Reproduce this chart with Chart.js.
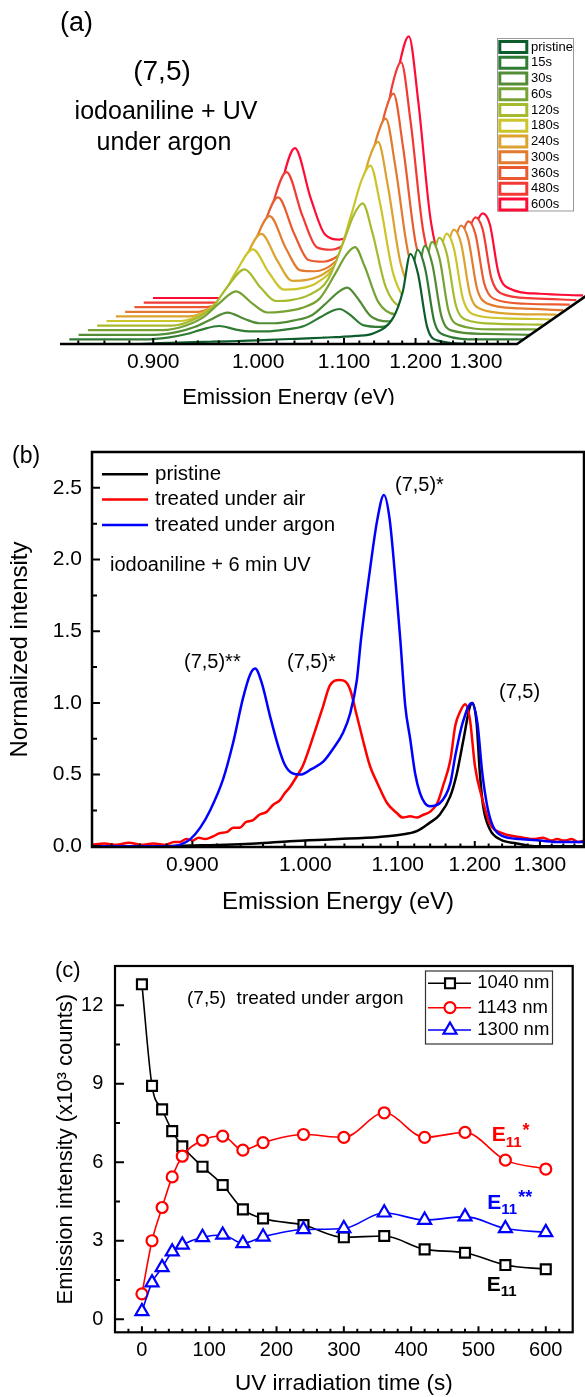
<!DOCTYPE html>
<html>
<head>
<meta charset="utf-8">
<title>(7,5) SWCNT photoluminescence after iodoaniline + UV</title>
<script src="https://cdn.jsdelivr.net/npm/chart.js@4.4.1/dist/chart.umd.min.js"></script>
<style>
  html, body { margin: 0; padding: 0; background: #fff; overflow: hidden; }
  #page { position: relative; width: 585px; height: 1397px; }
  canvas { position: absolute; left: 0; background: #fff; }
  #panelA { top: 0; }
  #panelB { top: 405px; }
  #panelC { top: 925px; }
</style>
</head>
<body>
<div id="page">
  <canvas id="panelA" width="585" height="430"></canvas>
  <canvas id="panelB" width="585" height="520"></canvas>
  <canvas id="panelC" width="585" height="472"></canvas>
</div>
<script>
const FONT = "'Liberation Sans', Arial, Helvetica, sans-serif";
const HC = 1239.84; // eV*nm, photon energy <-> wavelength

// energy axis ticks (eV), the labelled ones listed separately
const energyTicks = [0.84, 0.86, 0.88, 0.90, 0.92, 0.94, 0.96, 0.98, 1.00, 1.02, 1.04, 1.06, 1.08,
  1.10, 1.12, 1.14, 1.16, 1.18, 1.20, 1.22, 1.24, 1.26, 1.28, 1.30, 1.32, 1.34, 1.36];
const energyLabels = [0.90, 1.00, 1.10, 1.20, 1.30];

// (a) normalised PL vs irradiation time, all on one wavelength grid (nm)
const gridA = [1500, 1400, 1370, 1345, 1325, 1302, 1280, 1260, 1240, 1215, 1190, 1168, 1155,
  1143, 1130, 1112, 1088, 1062, 1050, 1040, 1030, 1018, 1005, 960, 900];
const traceNames = ['pristine', '15s', '30s', '60s', '120s', '180s', '240s', '300s', '360s', '480s', '600s'];
const plPristine = [0, 0, 0.01, 0.015, 0.02, 0.025, 0.03, 0.035, 0.04, 0.05, 0.058, 0.065, 0.07, 0.075, 0.08, 0.09, 0.12, 0.30, 0.58, 1.0, 0.78, 0.19, 0.04, 0, 0];
const pl15 = [0, 0, 0.02, 0.06, 0.11, 0.15, 0.11, 0.09, 0.09, 0.11, 0.15, 0.25, 0.31, 0.34, 0.28, 0.16, 0.14, 0.32, 0.60, 1.0, 0.79, 0.20, 0.05, 0, 0];
const pl30 = [0, 0, 0.03, 0.09, 0.17, 0.25, 0.18, 0.13, 0.13, 0.16, 0.22, 0.38, 0.48, 0.53, 0.42, 0.21, 0.15, 0.34, 0.62, 1.0, 0.79, 0.21, 0.05, 0.01, 0];
const pl60 = [0, 0, 0.05, 0.15, 0.30, 0.44, 0.30, 0.20, 0.21, 0.25, 0.36, 0.66, 0.85, 0.94, 0.72, 0.32, 0.18, 0.37, 0.66, 1.0, 0.81, 0.22, 0.06, 0.01, 0.01];
const pl120 = [0, 0, 0.07, 0.21, 0.44, 0.64, 0.43, 0.28, 0.29, 0.35, 0.52, 0.97, 1.26, 1.39, 1.06, 0.44, 0.21, 0.40, 0.70, 1.0, 0.82, 0.24, 0.07, 0.02, 0.01];
const pl180 = [0, 0, 0.09, 0.27, 0.56, 0.82, 0.55, 0.36, 0.37, 0.44, 0.66, 1.24, 1.61, 1.78, 1.35, 0.54, 0.23, 0.43, 0.74, 1.0, 0.83, 0.26, 0.08, 0.03, 0.02];
const pl240 = [0, 0, 0.10, 0.31, 0.65, 0.95, 0.64, 0.41, 0.42, 0.50, 0.74, 1.40, 1.82, 2.01, 1.52, 0.60, 0.25, 0.45, 0.76, 1.0, 0.84, 0.26, 0.09, 0.03, 0.02];
const pl300 = [0, 0, 0.12, 0.36, 0.76, 1.11, 0.74, 0.48, 0.47, 0.56, 0.83, 1.56, 2.03, 2.24, 1.69, 0.67, 0.26, 0.46, 0.78, 1.0, 0.84, 0.27, 0.10, 0.04, 0.02];
const pl360 = [0, 0, 0.13, 0.41, 0.88, 1.28, 0.86, 0.55, 0.53, 0.63, 0.91, 1.73, 2.26, 2.49, 1.88, 0.73, 0.28, 0.48, 0.80, 1.0, 0.85, 0.28, 0.10, 0.04, 0.03];
const pl480 = [0, 0, 0.16, 0.49, 1.05, 1.53, 1.02, 0.65, 0.62, 0.73, 1.03, 1.96, 2.56, 2.82, 2.13, 0.82, 0.30, 0.51, 0.83, 1.0, 0.86, 0.29, 0.11, 0.05, 0.03];
const pl600 = [0, 0, 0.18, 0.57, 1.21, 1.77, 1.18, 0.75, 0.69, 0.82, 1.13, 2.14, 2.80, 3.09, 2.33, 0.89, 0.32, 0.53, 0.86, 1.0, 0.87, 0.30, 0.12, 0.05, 0.03];

// (b) normalised PL after 6 min UV
const wlPristine = [1500, 1420, 1380, 1300, 1259, 1200, 1150, 1124, 1104, 1088, 1076, 1063, 1055, 1047, 1039, 1036, 1031, 1027, 1023, 1015, 1002, 982, 960, 900];
const nPristine = [0, 0, 0.005, 0.02, 0.035, 0.05, 0.065, 0.08, 0.105, 0.165, 0.22, 0.35, 0.51, 0.745, 0.977, 1.0, 0.86, 0.51, 0.28, 0.12, 0.047, 0.02, 0, 0];
const wlAir = [1500, 1485, 1470, 1455, 1440, 1425, 1410, 1400, 1393, 1385, 1377, 1370, 1362, 1352, 1345, 1335, 1328, 1320, 1312, 1304,
  1296, 1287, 1279, 1271, 1265, 1259, 1249, 1243, 1230, 1218, 1210, 1198, 1191, 1185, 1177, 1170, 1161, 1152, 1140, 1128,
  1121, 1112, 1104, 1096, 1088, 1079, 1072, 1063, 1057, 1051, 1045, 1039, 1033, 1024, 1015, 999, 985, 974, 962, 950,
  940, 933, 924, 915, 907, 900];
const nAir = [0.01, 0.02, 0.01, 0.025, 0.01, 0.02, 0.01, 0.03, 0.03, 0.05, 0.04, 0.06, 0.05, 0.07, 0.09, 0.10, 0.13, 0.13, 0.17, 0.18,
  0.22, 0.24, 0.29, 0.32, 0.37, 0.41, 0.50, 0.56, 0.77, 0.98, 1.12, 1.16, 1.15, 1.09, 0.91, 0.75, 0.56, 0.44, 0.30, 0.23,
  0.20, 0.21, 0.20, 0.22, 0.24, 0.30, 0.42, 0.60, 0.84, 0.94, 0.99, 0.88, 0.56, 0.33, 0.16, 0.09, 0.07, 0.06, 0.05, 0.06,
  0.04, 0.05, 0.04, 0.05, 0.03, 0.04];
const wlArgon = [1500, 1440, 1410, 1393, 1380, 1368, 1356, 1340, 1328, 1316, 1307, 1301, 1293, 1283, 1273, 1265, 1256, 1246, 1232, 1218,
  1206, 1194, 1185, 1177, 1172, 1161, 1152, 1144, 1137, 1129, 1124, 1118, 1112, 1106, 1100, 1094, 1088, 1076, 1063, 1057,
  1048, 1037, 1030, 1024, 1018, 1011, 999, 978, 954, 930, 900];
const nArgon = [0, 0, 0, 0.01, 0.05, 0.13, 0.25, 0.47, 0.72, 1.03, 1.20, 1.24, 1.14, 0.91, 0.70, 0.57, 0.51, 0.50, 0.54, 0.59,
  0.68, 0.79, 0.93, 1.16, 1.44, 1.93, 2.28, 2.45, 2.28, 1.79, 1.44, 0.98, 0.75, 0.51, 0.37, 0.30, 0.28, 0.30, 0.44, 0.63,
  0.86, 1.0, 0.86, 0.51, 0.28, 0.14, 0.07, 0.05, 0.04, 0.03, 0.03];
const normTicks = [0, 0.25, 0.5, 0.75, 1, 1.25, 1.5, 1.75, 2, 2.25, 2.5];

// (c) peak intensity (x10^3 counts) vs UV time under argon
const irrTime = [0, 15, 30, 45, 60, 90, 120, 150, 180, 240, 300, 360, 420, 480, 540, 600];
const int1040 = [12.8, 8.92, 8.02, 7.19, 6.61, 5.83, 5.13, 4.20, 3.85, 3.60, 3.13, 3.18, 2.67, 2.54, 2.07, 1.91];
const int1143 = [0.97, 3.00, 4.27, 5.44, 6.23, 6.84, 7.00, 6.46, 6.75, 7.06, 6.95, 7.89, 6.95, 7.14, 6.08, 5.74];
const int1300 = [0.30, 1.40, 1.98, 2.58, 2.84, 3.13, 3.22, 2.90, 3.15, 3.43, 3.47, 4.07, 3.79, 3.92, 3.47, 3.32];
const timeTicks = [-20, 0, 20, 40, 60, 80, 100, 120, 140, 160, 180, 200, 220, 240, 260, 280, 300, 320,
  340, 360, 380, 400, 420, 440, 460, 480, 500, 520, 540, 560, 580, 600, 620];
const countTicks = [0, 1.5, 3, 4.5, 6, 7.5, 9, 10.5, 12];

Chart.defaults.font.family = FONT;
Chart.defaults.color = '#000';

const pts = (xs, ys) => xs.map((x, i) => ({ x, y: ys[i] }));

function label(ctx, s, x, y, size, o = {}) {
  ctx.font = (o.bold ? 'bold ' : '') + size + 'px ' + FONT;
  ctx.fillStyle = o.color || '#000';
  ctx.textAlign = o.align || 'left';
  ctx.textBaseline = 'middle';
  ctx.fillText(s, x, y);
  return ctx.measureText(s).width;
}

// E11 with subscript and optional stars
function eLabel(ctx, x, y, stars, color) {
  let cx = x + label(ctx, 'E', x, y, 21, { bold: true, color });
  cx += label(ctx, '11', cx, y + 7, 15, { bold: true, color }) + 1;
  if (stars) label(ctx, stars, cx, y - 5, 18, { bold: true, color });
}

function energyScale(o) {
  return {
    type: 'linear', reverse: true, min: 900, max: 1500,
    grid: { display: false, drawTicks: false },
    border: { display: false },
    afterBuildTicks: s => { s.ticks = energyTicks.map(e => ({ value: HC / e })); },
    afterFit: s => { s.height = o.height; },
    ticks: {
      autoSkip: false, maxRotation: 0, minRotation: 0,
      font: { size: o.tickSize }, padding: o.tickPad,
      callback: (v, i) => energyLabels.includes(energyTicks[i]) ? energyTicks[i].toFixed(3) : ''
    },
    title: { display: true, text: 'Emission Energy (eV)', font: { size: o.titleSize, lineHeight: 1 },
      padding: { top: 0, bottom: o.titlePad } }
  };
}

// inward ticks plus a closed frame
function boxAxes(o) {
  return {
    id: 'boxAxes',
    afterDatasetsDraw(chart) {
      const { ctx, chartArea: a } = chart;
      ctx.save();
      ctx.strokeStyle = '#000';
      ctx.lineWidth = o.tickWidth;
      ctx.beginPath();
      ['x', 'y'].forEach(id => {
        const s = chart.scales[id];
        s.ticks.forEach(t => {
          const p = s.getPixelForValue(t.value);
          if (id === 'x') {
            ctx.moveTo(p, a.bottom);
            ctx.lineTo(p, a.bottom - (t.label ? o.majorX : o.minorX));
          } else {
            ctx.moveTo(a.left, p);
            ctx.lineTo(a.left + (t.label ? o.majorY : o.minorY), p);
          }
        });
      });
      ctx.stroke();
      ctx.lineWidth = o.lineWidth;
      ctx.strokeRect(a.left, a.top, a.right - a.left, a.bottom - a.top);
      ctx.restore();
    }
  };
}

const common = {
  responsive: false,
  animation: false,
  events: []
};

// ---------- (a) waterfall ----------
const tracesA = [plPristine, pl15, pl30, pl60, pl120, pl180, pl240, pl300, pl360, pl480, pl600];
const coloursA = ['#0d5c2c', '#2f7b34', '#528d35', '#76a133', '#a5ba2c', '#cbc42a', '#dba22e', '#e27a2f', '#ea5a30', '#f23a35', '#ff0c36'];
const AREA_W = 457, AREA_H = 344;   // front trace box
const STEP_X = 9.3, SHRINK = 2.7, STEP_Y = 4.6, UNIT_Y = 90;

const scalesA = {
  x: energyScale({ height: 86, tickSize: 21, tickPad: 6, titleSize: 22, titlePad: 21 }),
  y: { type: 'linear', display: false, min: 0, max: AREA_H / UNIT_Y }
};
for (let i = 1; i < tracesA.length; i++) {
  // each later trace sits further back: shifted, raised and slightly shrunk
  const w = AREA_W - SHRINK * i;
  const range = 600 * AREA_W / w;
  const max = 1500 + STEP_X * i * range / AREA_W;
  scalesA['x' + i] = { axis: 'x', type: 'linear', display: false, reverse: true, min: max - range, max };
  const unit = UNIT_Y * w / AREA_W;
  const ymin = -STEP_Y * i / unit;
  scalesA['y' + i] = { axis: 'y', type: 'linear', display: false, min: ymin, max: ymin + AREA_H / unit };
}

const waterfallAxis = {
  id: 'waterfallAxis',
  afterDatasetsDraw(chart) {
    const { ctx } = chart;
    const sx = chart.scales.x, sy = chart.scales.y;
    const last = tracesA.length - 1;
    const y0 = sy.getPixelForValue(0);
    const xl = sx.getPixelForValue(1500), xr = sx.getPixelForValue(900);
    const bx = chart.scales['x' + last].getPixelForValue(900);
    const by = chart.scales['y' + last].getPixelForValue(0);
    ctx.save();
    ctx.strokeStyle = '#000';
    ctx.lineWidth = 2;
    ctx.beginPath();
    sx.ticks.forEach(t => {
      const p = sx.getPixelForValue(t.value);
      ctx.moveTo(p, y0);
      ctx.lineTo(p, y0 - (t.label ? 6 : 3.5));
    });
    ctx.stroke();
    ctx.lineWidth = 2.5;
    ctx.beginPath();
    ctx.moveTo(xl, y0);
    ctx.lineTo(xr, y0);
    ctx.lineTo(xr + (bx - xr) * 1.1, y0 + (by - y0) * 1.1);
    ctx.stroke();

    // legend
    ctx.strokeStyle = '#999';
    ctx.lineWidth = 1;
    ctx.strokeRect(497.5, 38.5, 76, 172.5);
    chart.data.datasets.forEach((d, k) => {
      const yc = 47 + 15.75 * k;
      ctx.strokeStyle = d.borderColor;
      ctx.lineWidth = 3;
      ctx.strokeRect(499.8, yc - 5.5, 27, 11);
      label(ctx, d.label, 531, yc, 13);
    });

    label(ctx, '(a)', 60, 24, 27);
    label(ctx, '(7,5)', 162, 72, 28, { align: 'center' });
    label(ctx, 'iodoaniline + UV', 166, 112, 25, { align: 'center' });
    label(ctx, 'under argon', 164, 143, 25, { align: 'center' });
    ctx.restore();
  }
};

new Chart(document.getElementById('panelA'), {
  type: 'line',
  data: {
    datasets: tracesA.map((vals, i) => ({
      label: traceNames[i],
      data: pts(gridA, vals),
      xAxisID: i ? 'x' + i : 'x',
      yAxisID: i ? 'y' + i : 'y',
      borderColor: coloursA[i],
      backgroundColor: '#fff',
      borderWidth: 2.2,
      fill: 'origin',
      clip: false
    }))
  },
  options: {
    ...common,
    layout: { padding: { left: 60, right: 68, top: 0, bottom: 0 } },
    elements: { point: { radius: 0 }, line: { cubicInterpolationMode: 'monotone', capBezierPoints: false } },
    scales: scalesA,
    plugins: { legend: { display: false }, tooltip: { enabled: false } }
  },
  plugins: [waterfallAxis]
});

// ---------- (b) spectra after 6 min ----------
const notesB = {
  id: 'notesB',
  afterDraw(chart) {
    const { ctx } = chart;
    ctx.save();
    label(ctx, '(b)', 12, 52, 23);
    const keys = [['pristine', '#000'], ['treated under air', '#ff0000'], ['treated under argon', '#0000ff']];
    keys.forEach(([t, c], k) => {
      const y = 69.3 + 25.3 * k;
      ctx.strokeStyle = c;
      ctx.lineWidth = 2.5;
      ctx.beginPath();
      ctx.moveTo(102, y);
      ctx.lineTo(148, y);
      ctx.stroke();
      label(ctx, t, 155, y, 20.5);
    });
    label(ctx, 'iodoaniline + 6 min UV', 110, 160.5, 20);
    label(ctx, '(7,5)*', 395, 80.7, 20);
    label(ctx, '(7,5)**', 184, 257, 20);
    label(ctx, '(7,5)*', 287, 257, 20);
    label(ctx, '(7,5)', 499, 287, 20);
    ctx.restore();
  }
};

new Chart(document.getElementById('panelB'), {
  type: 'line',
  data: {
    datasets: [
      { label: 'pristine', data: pts(wlPristine, nPristine), borderColor: '#000000', order: 2 },
      { label: 'treated under air', data: pts(wlAir, nAir), borderColor: '#ff0000', order: 1 },
      { label: 'treated under argon', data: pts(wlArgon, nArgon), borderColor: '#0000ff', order: 0 }
    ]
  },
  options: {
    ...common,
    layout: { padding: { left: 0, right: 1, top: 47, bottom: 0 } },
    elements: { point: { radius: 0 }, line: { borderWidth: 2.5, cubicInterpolationMode: 'monotone', fill: false } },
    scales: {
      x: energyScale({ height: 78, tickSize: 21, tickPad: 5.4, titleSize: 24, titlePad: 11 }),
      y: {
        type: 'linear', min: -0.005, max: 2.75,
        grid: { display: false, drawTicks: false },
        border: { display: false },
        afterBuildTicks: s => { s.ticks = normTicks.map(v => ({ value: v })); },
        afterFit: s => { s.width = 92; },
        ticks: { autoSkip: false, font: { size: 21 }, padding: 10,
          callback: v => Math.round(v * 100) % 50 === 0 ? v.toFixed(1) : '' },
        title: { display: true, text: 'Normalized intensity', font: { size: 24, lineHeight: 1 },
          padding: { top: 8, bottom: 0 } }
      }
    },
    plugins: { legend: { display: false }, tooltip: { enabled: false } }
  },
  plugins: [boxAxes({ tickWidth: 2, lineWidth: 2.5, majorX: 6, minorX: 3.5, majorY: 8, minorY: 5 }), notesB]
});

// ---------- (c) peak intensities vs time ----------
const seriesC = [
  { name: '1040 nm', vals: int1040, colour: '#000000', style: 'rect', r: 7, order: 2 },
  { name: '1143 nm', vals: int1143, colour: '#ff0000', style: 'circle', r: 5.5, order: 1 },
  { name: '1300 nm', vals: int1300, colour: '#0000ff', style: 'triangle', r: 7.5, order: 0 }
];

const notesC = {
  id: 'notesC',
  afterDraw(chart) {
    const { ctx } = chart;
    ctx.save();
    label(ctx, '(c)', 55, 46.3, 22);
    label(ctx, '(7,5)  treated under argon', 187, 74, 19);
    ctx.strokeStyle = '#333';
    ctx.lineWidth = 1.2;
    ctx.strokeRect(425.5, 46, 127, 73);
    seriesC.forEach((s, k) => {
      const y = [58.3, 82.7, 105][k];
      ctx.strokeStyle = s.colour;
      ctx.lineWidth = 1.6;
      ctx.beginPath();
      ctx.moveTo(428, y);
      ctx.lineTo(471, y);
      ctx.stroke();
      ctx.fillStyle = '#fff';
      ctx.lineWidth = 2.2;
      Chart.helpers.drawPoint(ctx, { pointStyle: s.style, radius: s.r, rotation: 0, borderWidth: 2.2 }, 450, y);
      label(ctx, s.name, 477.3, y, 18.5);
    });
    eLabel(ctx, 491.7, 210.7, '*', '#ff0000');
    eLabel(ctx, 487.3, 278.3, '**', '#0000ff');
    eLabel(ctx, 486.7, 360, '', '#000000');
    ctx.restore();
  }
};

new Chart(document.getElementById('panelC'), {
  type: 'line',
  data: {
    datasets: seriesC.map(s => ({
      label: s.name,
      data: pts(irrTime, s.vals),
      borderColor: s.colour,
      backgroundColor: '#fff',
      pointBackgroundColor: '#fff',
      pointBorderColor: s.colour,
      pointStyle: s.style,
      pointRadius: s.r,
      pointBorderWidth: 2.2,
      borderWidth: 1.6,
      order: s.order
    }))
  },
  options: {
    ...common,
    layout: { padding: { left: 0, right: 12.3, top: 41, bottom: 0 } },
    elements: { line: { cubicInterpolationMode: 'monotone', fill: false } },
    scales: {
      x: {
        type: 'linear', min: -40, max: 640,
        grid: { display: false, drawTicks: false },
        border: { display: false },
        afterBuildTicks: s => { s.ticks = timeTicks.map(v => ({ value: v })); },
        afterFit: s => { s.height = 64.7; },
        ticks: { autoSkip: false, maxRotation: 0, minRotation: 0, font: { size: 20 }, padding: 6.5,
          callback: v => v % 100 === 0 ? String(v) : '' },
        title: { display: true, text: 'UV irradiation time (s)', font: { size: 22.5, lineHeight: 1 },
          padding: { top: 0, bottom: 1.7 } }
      },
      y: {
        type: 'linear', min: -0.5, max: 13.5,
        grid: { display: false, drawTicks: false },
        border: { display: false },
        afterBuildTicks: s => { s.ticks = countTicks.map(v => ({ value: v })); },
        afterFit: s => { s.width = 115; },
        ticks: { autoSkip: false, font: { size: 20 }, padding: 11.7,
          callback: v => v % 3 === 0 ? String(v) : '' },
        title: { display: true, text: 'Emission intensity (x10³ counts)', font: { size: 22, lineHeight: 1 },
          padding: { top: 55, bottom: 0 } }
      }
    },
    plugins: { legend: { display: false }, tooltip: { enabled: false } }
  },
  plugins: [boxAxes({ tickWidth: 2, lineWidth: 2.2, majorX: 6, minorX: 3.5, majorY: 9, minorY: 5 }), notesC]
});
</script>
</body>
</html>
